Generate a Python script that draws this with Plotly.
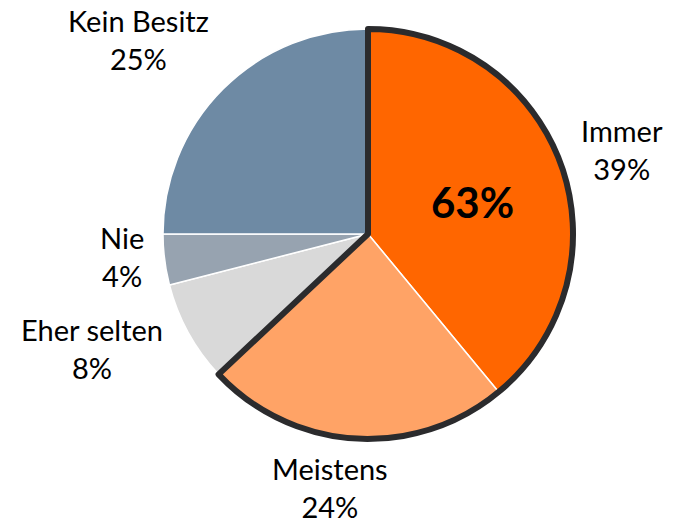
import plotly.graph_objects as go

labels = ["Immer", "Meistens", "Eher selten", "Nie", "Kein Besitz"]
values = [39, 24, 8, 4, 25]
colors = ["#FF6600", "#FFA366", "#D9D9D9", "#97A3B0", "#6E8AA4"]
highlight_labels = ["Immer", "Meistens"]

# label positions (pixels) — layout only
label_pos = {
    "Immer": (614, 141),
    "Meistens": (322, 479),
    "Eher selten": (84, 340),
    "Nie": (114, 248),
    "Kein Besitz": (130, 31),
}

W, H = 679, 523
cx, cy, r = 360, 226, 205
domain = dict(x=[(cx - r) / W, (cx + r) / W], y=[1 - (cy + r) / H, 1 - (cy - r) / H])

hl_total = sum(v for l, v in zip(labels, values) if l in highlight_labels)
rest_total = sum(values) - hl_total

fig = go.Figure()
fig.add_trace(go.Pie(
    labels=labels, values=values, sort=False, direction="clockwise", rotation=0,
    marker=dict(colors=colors, line=dict(color="white", width=1.5)),
    textinfo="none", hoverinfo="skip", domain=domain, showlegend=False,
))
fig.add_trace(go.Pie(
    labels=["hl", "rest"], values=[hl_total, rest_total], sort=False,
    direction="clockwise", rotation=0,
    marker=dict(colors=["rgba(0,0,0,0)", "rgba(0,0,0,0)"],
                line=dict(color=["#2b2b2d", "rgba(0,0,0,0)"], width=6)),
    textinfo="none", hoverinfo="skip", domain=domain, showlegend=False,
))

font = dict(family="Lato, Open Sans, sans-serif", size=29, color="#000000")
for l, v in zip(labels, values):
    x, y = label_pos[l]
    fig.add_annotation(x=x / W, y=1 - y / H, xref="paper", yref="paper",
                       text=f"{l}<br>{v}%", showarrow=False, font=font,
                       xanchor="center", yanchor="middle", align="center")

fig.add_annotation(x=464 / W, y=1 - 194 / H, xref="paper", yref="paper",
                   text=f"<b>{hl_total}%</b>", showarrow=False,
                   font=dict(family="Lato, Open Sans, sans-serif", size=42, color="#000000"),
                   xanchor="center", yanchor="middle")

fig.update_layout(width=W, height=H, margin=dict(l=0, r=0, t=0, b=0),
                  paper_bgcolor="white", plot_bgcolor="white")
fig.write_html("out.html")
